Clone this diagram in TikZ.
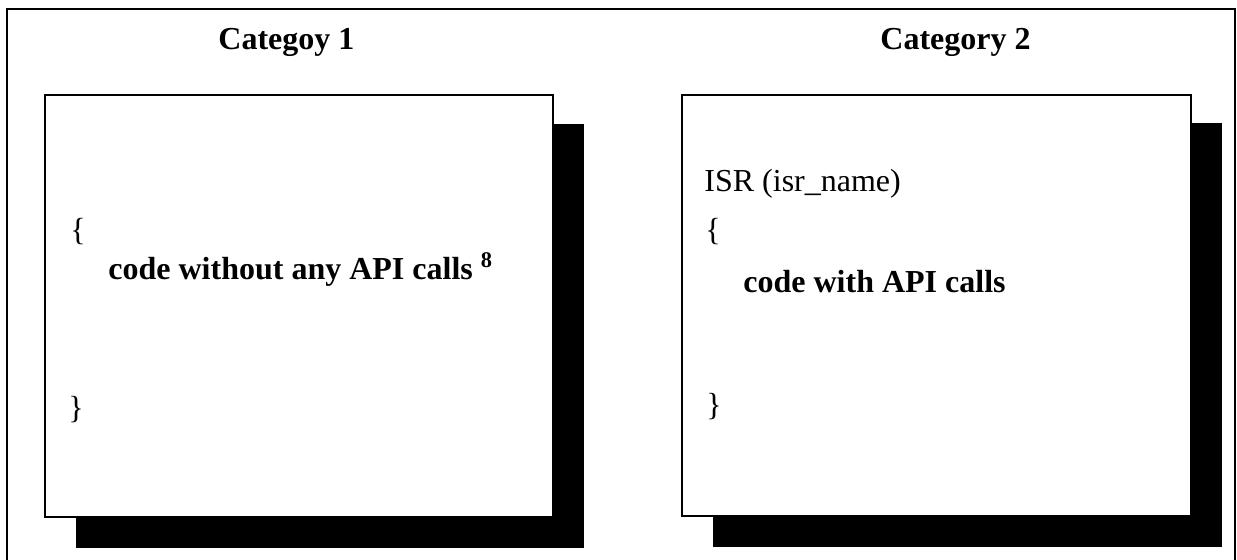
\documentclass[tikz,border=0pt]{standalone}
\usepackage{fontspec}
\setmainfont{Liberation Serif}
\usepackage{tikz}
\usetikzlibrary{calc}

\begin{document}
\begin{tikzpicture}[x=0.5pt,y=-0.5pt,line join=miter,
  txt/.style={anchor=base west,inner sep=0pt,font=\fontsize{16}{19}\selectfont},
  head/.style={txt,font=\fontsize{16}{19}\selectfont\bfseries}]
  \useasboundingbox (0,0) rectangle (1237,560);
  \coordinate (FBL) at (7,560);
  \coordinate (FTL) at (7,9);
  \coordinate (FTR) at (1235,9);
  \coordinate (FBR) at (1235,560);
  \coordinate (A1) at (45,95);
  \coordinate (A2) at (553,517);
  \coordinate (B1) at (682,95);
  \coordinate (B2) at (1191,516);
  \draw[line width=1pt] (FBL) -- (FTL) -- (FTR) -- (FBR);
  \fill[black] ($(A1)+(31,29)$) rectangle ($(A2)+(31,31)$);
  \fill[black] ($(B1)+(31,28)$) rectangle ($(B2)+(31,31)$);
  \draw[line width=1pt,fill=white] (A1) rectangle (A2);
  \draw[line width=1pt,fill=white] (B1) rectangle (B2);
  \node[head] (cat1) at (218,50) {Categoy 1};
  \node[head] (cat2) at (880,50) {Category 2};
  \node[txt] (lopen) at (70,241) {\{};
  \node[head] (lcode) at (108,280) {code without any API calls \textsuperscript{8}};
  \node[txt] (lclose) at (68,419) {\}};
  \node[txt] (isr) at (704,192) {ISR (isr\_name)};
  \node[txt] (ropen) at (705,241) {\{};
  \node[head] (rcode) at (743,293) {code with API calls};
  \node[txt] (rclose) at (706,416) {\}};
\end{tikzpicture}
\end{document}
